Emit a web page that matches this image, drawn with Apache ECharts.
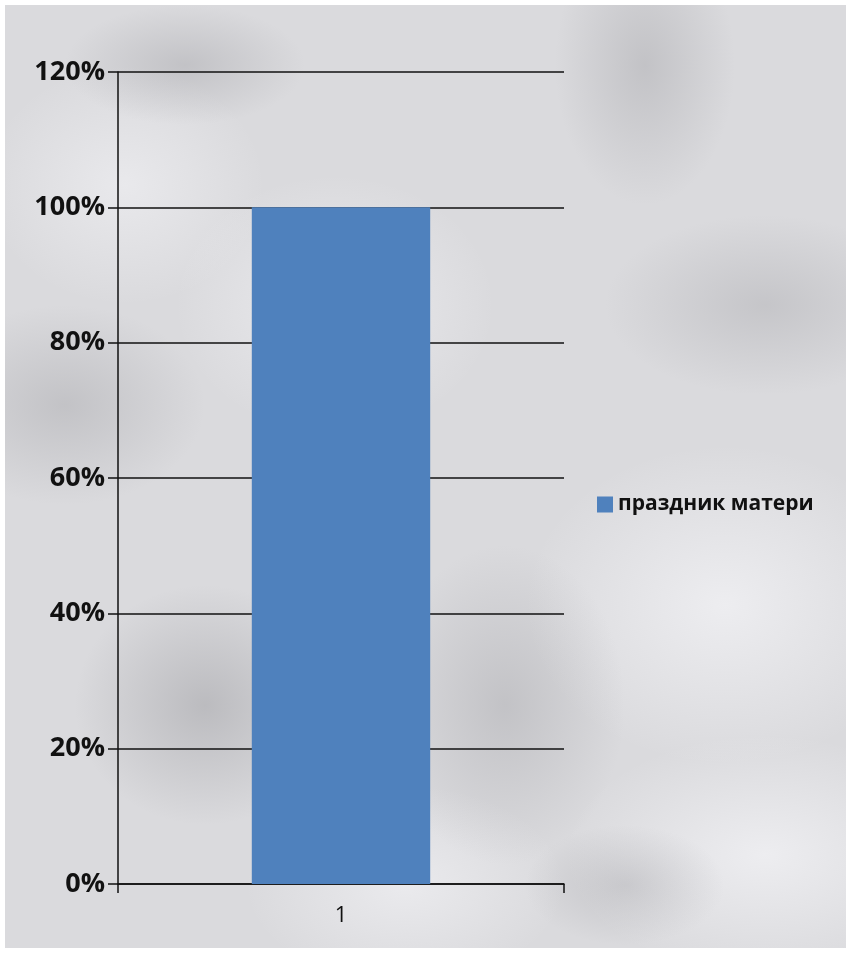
<!DOCTYPE html>
<html>
<head>
<meta charset="utf-8">
<script src="https://cdn.jsdelivr.net/npm/echarts@6/dist/echarts.min.js"></script>
<style>
html, body { margin: 0; padding: 0; background: #ffffff; }
#bg {
  position: absolute; left: 5px; top: 5px; width: 841px; height: 943px;
  background-color: #dadadd;
  background-image:
    radial-gradient(ellipse 120px 60px at 180px 60px, rgba(150,150,155,0.35), rgba(150,150,155,0) 100%),
    radial-gradient(ellipse 90px 140px at 640px 60px, rgba(140,140,145,0.3), rgba(140,140,145,0) 100%),
    radial-gradient(ellipse 160px 90px at 760px 300px, rgba(150,150,155,0.3), rgba(150,150,155,0) 100%),
    radial-gradient(ellipse 140px 100px at 60px 400px, rgba(140,140,145,0.3), rgba(140,140,145,0) 100%),
    radial-gradient(ellipse 130px 120px at 200px 700px, rgba(130,130,135,0.35), rgba(130,130,135,0) 100%),
    radial-gradient(ellipse 120px 160px at 500px 700px, rgba(140,140,145,0.3), rgba(140,140,145,0) 100%),
    radial-gradient(ellipse 100px 60px at 620px 880px, rgba(150,150,155,0.3), rgba(150,150,155,0) 100%),
    radial-gradient(ellipse 200px 160px at 720px 600px, rgba(245,245,248,0.7), rgba(245,245,248,0) 100%),
    radial-gradient(ellipse 160px 130px at 330px 300px, rgba(245,245,248,0.6), rgba(245,245,248,0) 100%),
    radial-gradient(ellipse 140px 120px at 120px 180px, rgba(245,245,248,0.55), rgba(245,245,248,0) 100%),
    radial-gradient(ellipse 160px 100px at 400px 880px, rgba(245,245,248,0.6), rgba(245,245,248,0) 100%),
    radial-gradient(ellipse 200px 120px at 760px 850px, rgba(245,245,248,0.7), rgba(245,245,248,0) 100%);
}
#chart { position: absolute; left: 0; top: 0; width: 846px; height: 953px; }
</style>
</head>
<body>
<div id="bg"></div>
<div id="chart"></div>
<script>
var categories = ['1'];
var seriesName = 'праздник матери';
var values = [1.0];
var yTicks = [0, 0.2, 0.4, 0.6, 0.8, 1.0, 1.2];

var chart = echarts.init(document.getElementById('chart'), null, { renderer: 'canvas' });
chart.setOption({
  backgroundColor: 'transparent',
  animation: false,
  grid: { left: 118, right: 282, top: 72, bottom: 69, containLabel: false },
  legend: {
    data: [seriesName],
    left: 592, top: 489,
    orient: 'vertical',
    icon: 'rect',
    itemWidth: 16, itemHeight: 16, itemGap: 7,
    textStyle: { fontFamily: 'Open Sans', fontWeight: 'bold', fontSize: 21, color: '#111' }
  },
  xAxis: {
    type: 'category',
    data: categories,
    boundaryGap: true,
    axisLine: { show: true, lineStyle: { color: '#111', width: 1.5 } },
    axisTick: { show: true, alignWithLabel: false, length: 9, lineStyle: { color: '#111', width: 1.5 } },
    axisLabel: { margin: 21, fontFamily: 'Open Sans', fontSize: 22, color: '#111' },
    splitLine: { show: false }
  },
  yAxis: {
    type: 'value',
    min: yTicks[0], max: yTicks[yTicks.length - 1], interval: 0.2,
    axisLine: { show: true, lineStyle: { color: '#111', width: 1.5 } },
    axisTick: { show: true, length: 10, lineStyle: { color: '#111', width: 1.5 } },
    axisLabel: {
      margin: 13, fontFamily: 'Open Sans', fontWeight: 'bold', fontSize: 27, color: '#111',
      formatter: function (v) { return Math.round(v * 100) + '%'; }
    },
    splitLine: { show: true, lineStyle: { color: '#111', width: 1.5 } }
  },
  series: [{
    name: seriesName,
    type: 'bar',
    data: values,
    barWidth: '40%',
    itemStyle: { color: '#4f81bd' }
  }]
});
</script>
</body>
</html>
